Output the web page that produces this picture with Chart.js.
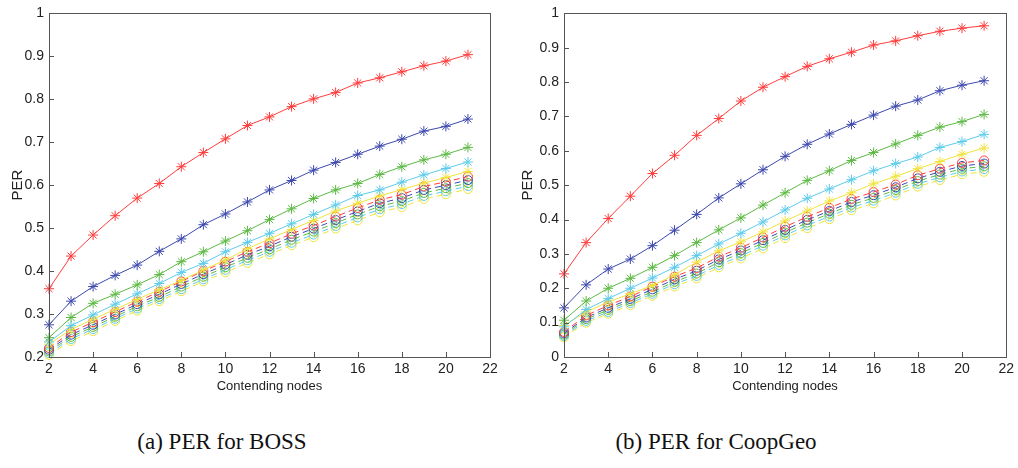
<!DOCTYPE html>
<html>
<head>
<meta charset="utf-8">
<script src="https://cdn.jsdelivr.net/npm/chart.js@4/dist/chart.umd.min.js"></script>
<style>
body{margin:0;background:#fff;width:1018px;height:468px;position:relative;overflow:hidden}
canvas{position:absolute;top:0}
#bossCanvas{left:0}
#coopCanvas{left:510px}
.caption{position:absolute;top:429px;width:340px;text-align:center;font-family:"Liberation Serif","DejaVu Serif",serif;font-size:23px;color:#111}
</style>
</head>
<body>
<canvas id="bossCanvas" width="510" height="400"></canvas>
<canvas id="coopCanvas" width="508" height="400"></canvas>
<div class="caption" style="left:52px">(a) PER for BOSS</div>
<div class="caption" style="left:546px">(b) PER for CoopGeo</div>
<script>
// x values = number of contending nodes
const nodes = [2,3,4,5,6,7,8,9,10,11,12,13,14,15,16,17,18,19,20,21]
const xTicks = [2,4,6,8,10,12,14,16,18,20,22]
const bossYTicks = [0.2,0.3,0.4,0.5,0.6,0.7,0.8,0.9,1]
const coopYTicks = [0,0.1,0.2,0.3,0.4,0.5,0.6,0.7,0.8,0.9,1]

// (a) BOSS - solid lines with * markers
const bossRedStar    = [0.359,0.435,0.484,0.529,0.570,0.604,0.643,0.676,0.708,0.739,0.759,0.783,0.801,0.816,0.838,0.850,0.864,0.878,0.889,0.904]
const bossBlueStar   = [0.275,0.330,0.364,0.390,0.414,0.446,0.475,0.508,0.533,0.561,0.589,0.611,0.635,0.653,0.672,0.691,0.707,0.726,0.737,0.754]
const bossGreenStar  = [0.245,0.292,0.325,0.346,0.368,0.392,0.422,0.445,0.470,0.494,0.520,0.545,0.569,0.589,0.604,0.625,0.643,0.659,0.672,0.688]
const bossCyanStar   = [0.235,0.273,0.298,0.323,0.347,0.371,0.397,0.418,0.445,0.467,0.488,0.510,0.532,0.554,0.576,0.589,0.607,0.624,0.639,0.654]
const bossYellowStar = [0.230,0.264,0.288,0.311,0.334,0.357,0.378,0.403,0.426,0.452,0.475,0.497,0.518,0.540,0.558,0.575,0.590,0.605,0.618,0.632]
// (a) BOSS - dashed lines with o markers
const bossRedCircle    = [0.221,0.258,0.281,0.305,0.329,0.352,0.376,0.400,0.422,0.445,0.465,0.487,0.506,0.527,0.547,0.566,0.578,0.597,0.608,0.620]
const bossBlueCircle   = [0.217,0.252,0.275,0.299,0.323,0.346,0.370,0.393,0.415,0.438,0.458,0.480,0.499,0.519,0.539,0.558,0.570,0.589,0.600,0.612]
const bossGreenCircle  = [0.213,0.247,0.270,0.294,0.318,0.340,0.364,0.387,0.409,0.431,0.451,0.473,0.492,0.512,0.532,0.551,0.563,0.582,0.593,0.605]
const bossCyanCircle   = [0.209,0.242,0.265,0.289,0.313,0.335,0.358,0.381,0.403,0.425,0.445,0.466,0.485,0.505,0.525,0.544,0.556,0.575,0.586,0.598]
const bossYellowCircle = [0.205,0.237,0.260,0.284,0.308,0.330,0.353,0.376,0.397,0.419,0.439,0.460,0.479,0.499,0.518,0.537,0.549,0.568,0.579,0.591]

// (b) CoopGeo - solid lines with * markers
const coopRedStar    = [0.242,0.333,0.403,0.468,0.534,0.587,0.645,0.694,0.745,0.785,0.816,0.846,0.868,0.887,0.908,0.920,0.935,0.948,0.957,0.964]
const coopBlueStar   = [0.143,0.210,0.256,0.285,0.324,0.369,0.415,0.463,0.504,0.545,0.584,0.619,0.649,0.677,0.704,0.730,0.748,0.775,0.791,0.804]
const coopGreenStar  = [0.107,0.163,0.200,0.229,0.261,0.295,0.333,0.370,0.405,0.442,0.478,0.514,0.542,0.572,0.595,0.620,0.645,0.669,0.685,0.706]
const coopCyanStar   = [0.088,0.138,0.170,0.200,0.230,0.261,0.295,0.329,0.360,0.393,0.428,0.462,0.489,0.516,0.542,0.563,0.582,0.610,0.627,0.648]
const coopYellowStar = [0.092,0.131,0.160,0.184,0.208,0.239,0.276,0.309,0.335,0.364,0.396,0.425,0.454,0.478,0.504,0.526,0.548,0.569,0.590,0.608]
// (b) CoopGeo - dashed lines with o markers
const coopRedCircle    = [0.073,0.121,0.150,0.176,0.205,0.234,0.259,0.292,0.318,0.348,0.379,0.408,0.434,0.460,0.480,0.502,0.529,0.548,0.565,0.572]
const coopBlueCircle   = [0.069,0.115,0.143,0.169,0.197,0.226,0.251,0.284,0.310,0.340,0.370,0.399,0.425,0.451,0.471,0.494,0.520,0.539,0.556,0.563]
const coopGreenCircle  = [0.065,0.110,0.137,0.163,0.190,0.219,0.243,0.276,0.302,0.332,0.362,0.391,0.417,0.443,0.463,0.486,0.512,0.531,0.548,0.555]
const coopCyanCircle   = [0.061,0.105,0.131,0.157,0.184,0.212,0.236,0.268,0.294,0.324,0.354,0.383,0.409,0.435,0.455,0.478,0.504,0.523,0.540,0.547]
const coopYellowCircle = [0.057,0.100,0.126,0.151,0.178,0.205,0.229,0.261,0.287,0.316,0.346,0.375,0.401,0.427,0.447,0.470,0.496,0.515,0.532,0.539]

const red = '#ff3c3c', blue = '#3c48ae', green = '#5cb944', cyan = '#5ccbea', yellow = '#f0e33a'
const sansFont = 'Liberation Sans, Arial, sans-serif'

makeSet = (vals, color, star) => ({
    data: nodes.map((n, i) => ({x: n, y: vals[i]})),
    borderColor: color,
    borderWidth: 1,
    borderDash: star ? [] : [6, 4],
    pointStyle: star ? 'star' : 'circle',
    pointRadius: star ? 5 : 4.5,
    pointBorderColor: color,
    pointBackgroundColor: 'rgba(0,0,0,0)',
    pointBorderWidth: 1,
    fill: false,
    tension: 0,
    clip: false
})

// matlab style box + inward ticks
const boxTicks = {
    id: 'boxTicks',
    afterDraw: (chart) => {
        const {ctx, chartArea: a, scales} = chart
        ctx.save()
        ctx.strokeStyle = '#555'
        ctx.lineWidth = 1
        ctx.strokeRect(Math.round(a.left) + 0.5, Math.round(a.top) + 0.5, Math.round(a.right - a.left), Math.round(a.bottom - a.top))
        ctx.beginPath()
        scales.x.ticks.forEach(t => {
            const px = Math.round(scales.x.getPixelForValue(t.value)) + 0.5
            ctx.moveTo(px, a.bottom)
            ctx.lineTo(px, a.bottom - 5)
        })
        scales.y.ticks.forEach(t => {
            const py = Math.round(scales.y.getPixelForValue(t.value)) + 0.5
            ctx.moveTo(a.left, py)
            ctx.lineTo(a.left + 5, py)
        })
        ctx.stroke()
        ctx.restore()
    }
}

drawPanel = (id, sets, yMin, yTicks, yWidth, titlePad, pad) => {
    new Chart(id, {
        type: 'line',
        data: {datasets: sets},
        plugins: [boxTicks],
        options: {
            responsive: false,
            animation: false,
            layout: {padding: pad},
            plugins: {legend: {display: false}, tooltip: {enabled: false}},
            scales: {
                x: {
                    type: 'linear', min: 2, max: 22,
                    afterBuildTicks: s => { s.ticks = xTicks.map(v => ({value: v})) },
                    afterFit: s => { s.height = 43 },
                    grid: {display: false, drawTicks: false},
                    border: {display: false},
                    ticks: {padding: 4, color: '#222', autoSkip: false, maxRotation: 0, font: {family: sansFont, size: 14}},
                    title: {display: true, text: 'Contending nodes', color: '#222', font: {family: sansFont, size: 13}, padding: {top: 0, bottom: 6}}
                },
                y: {
                    type: 'linear', min: yMin, max: 1,
                    afterBuildTicks: s => { s.ticks = yTicks.map(v => ({value: v})) },
                    afterFit: s => { s.width = yWidth },
                    grid: {display: false, drawTicks: false},
                    border: {display: false},
                    ticks: {padding: 5, color: '#222', font: {family: sansFont, size: 14}, callback: v => String(Math.round(v * 10) / 10)},
                    title: {display: true, text: 'PER', color: '#222', font: {family: sansFont, size: 15}, padding: {top: titlePad, bottom: 0}}
                }
            }
        }
    })
}

drawPanel('bossCanvas', [
    makeSet(bossRedStar, red, true), makeSet(bossBlueStar, blue, true), makeSet(bossGreenStar, green, true),
    makeSet(bossCyanStar, cyan, true), makeSet(bossYellowStar, yellow, true),
    makeSet(bossRedCircle, red, false), makeSet(bossBlueCircle, blue, false), makeSet(bossGreenCircle, green, false),
    makeSet(bossCyanCircle, cyan, false), makeSet(bossYellowCircle, yellow, false)
], 0.2, bossYTicks, 49, 9, {top: 7, right: 20, left: 0, bottom: 0})

drawPanel('coopCanvas', [
    makeSet(coopRedStar, red, true), makeSet(coopBlueStar, blue, true), makeSet(coopGreenStar, green, true),
    makeSet(coopCyanStar, cyan, true), makeSet(coopYellowStar, yellow, true),
    makeSet(coopRedCircle, red, false), makeSet(coopBlueCircle, blue, false), makeSet(coopGreenCircle, green, false),
    makeSet(coopCyanCircle, cyan, false), makeSet(coopYellowCircle, yellow, false)
], 0, coopYTicks, 54, 9, {top: 11, right: 11, left: 0, bottom: 0})
</script>
</body>
</html>
